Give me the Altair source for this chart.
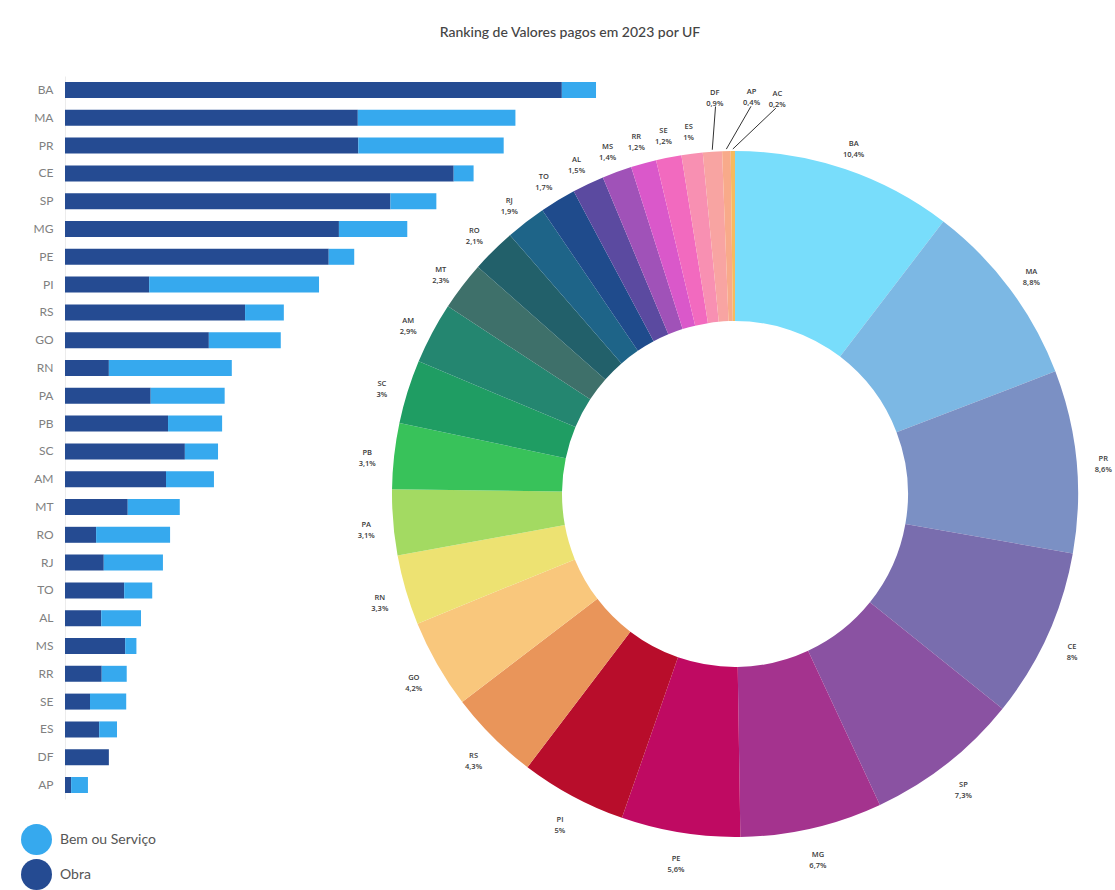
import math
import altair as alt
import pandas as pd

# ---------------- data ----------------
ufs = ["BA", "MA", "PR", "CE", "SP", "MG", "PE", "PI", "RS", "GO", "RN", "PA", "PB",
       "SC", "AM", "MT", "RO", "RJ", "TO", "AL", "MS", "RR", "SE", "ES", "DF", "AP"]
obra = [9.74, 5.74, 5.75, 7.62, 6.38, 5.37, 5.17, 1.65, 3.53, 2.82, 0.86, 1.68, 2.02,
        2.35, 1.98, 1.23, 0.61, 0.76, 1.16, 0.71, 1.18, 0.72, 0.49, 0.67, 0.86, 0.12]
bem = [0.67, 3.09, 2.85, 0.39, 0.90, 1.34, 0.50, 3.33, 0.76, 1.41, 2.41, 1.45, 1.06,
       0.65, 0.94, 1.02, 1.45, 1.16, 0.55, 0.78, 0.22, 0.49, 0.71, 0.35, 0.00, 0.33]
tipos = ["Bem ou Serviço", "Obra"]
tipo_colors = ["#36A9EE", "#254B92"]

donut_ufs = ufs + ["AC"]
donut_pct = [10.4, 8.8, 8.6, 8, 7.3, 6.7, 5.6, 5, 4.3, 4.2, 3.3, 3.1, 3.1, 3, 2.9,
             2.3, 2.1, 1.9, 1.7, 1.5, 1.4, 1.2, 1.2, 1, 0.9, 0.4, 0.2]
donut_colors = ["#78DDFB", "#7CB8E4", "#7B90C4", "#796DAE", "#8A52A2", "#A4338E",
                "#BF0A62", "#B80D2B", "#E9955A", "#F9C77C", "#EDE272", "#A3DA62",
                "#38C25A", "#1F9D63", "#248670", "#3E706A", "#22606A", "#1E6488",
                "#1F4B8C", "#5B4AA0", "#A052B8", "#DA58CA", "#F26ABF", "#F890B2",
                "#F8A4A2", "#F8AA8A", "#F6BA5E"]

# label nudges (degrees) for crowded small slices
crowded_nudge = {"DF": 0.9, "AP": 3.8, "AC": 6.4}

TITLE = "Ranking de Valores pagos em 2023 por UF"

# ---------------- layout constants ----------------
W, H = 1010, 723
CX, CY = 670, 418          # donut centre inside plot area
R_OUT, R_IN = 343, 173
R_LAB, R_LAB_FAR = 370, 402
FONT = "Lato"

# ---------------- tables ----------------
bar_rows = []
for u, o, b in zip(ufs, obra, bem):
    bar_rows.append({"uf": u, "tipo": "Obra", "val": o, "ord": 0})
    bar_rows.append({"uf": u, "tipo": "Bem ou Serviço", "val": b, "ord": 1})
bar_df = pd.DataFrame(bar_rows)


def fmt(p):
    s = f"{p:.1f}".rstrip("0").rstrip(".")
    return s.replace(".", ",") + "%"


total = sum(donut_pct)
d = pd.DataFrame({"uf": donut_ufs, "pct": donut_pct})
d["rank"] = range(len(d))
d["mid"] = d["pct"].cumsum() - d["pct"] / 2
d["label"] = [f"{u}\n{fmt(p)}" for u, p in zip(donut_ufs, donut_pct)]
d["crowded"] = d["uf"].isin(list(crowded_nudge.keys()))
d["lab_theta"] = d["mid"] + d["uf"].map(crowded_nudge).fillna(0) / 360 * total

a_mid = d["mid"] / total * 2 * math.pi
a_lab = d["lab_theta"] / total * 2 * math.pi
d["lx1"] = CX + (R_OUT + 2) * a_mid.apply(math.sin)
d["ly1"] = CY - (R_OUT + 2) * a_mid.apply(math.cos)
d["lx2"] = CX + (R_LAB_FAR - 14) * a_lab.apply(math.sin)
d["ly2"] = CY - (R_LAB_FAR - 14) * a_lab.apply(math.cos)

theta_scale = alt.Scale(domain=[0, total])

# ---------------- layers ----------------
bars = alt.Chart(bar_df).mark_bar().encode(
    x=alt.X("val:Q", stack="zero", scale=alt.Scale(domain=[0, 19.8], nice=False), axis=None),
    y=alt.Y("uf:N", sort=ufs, title=None,
            scale=alt.Scale(paddingInner=0.425, paddingOuter=0.216),
            axis=alt.Axis(ticks=False, domain=True, domainColor="#ececec",
                          labelColor="#808080", labelFontSize=12, labelFont=FONT,
                          labelPadding=12)),
    color=alt.Color("tipo:N", scale=alt.Scale(domain=tipos, range=tipo_colors),
                    legend=alt.Legend(title=None, orient="none", legendX=-44, legendY=748,
                                      direction="vertical", symbolType="circle",
                                      symbolSize=960, symbolStrokeWidth=0,
                                      symbolOpacity=1, labelFontSize=14,
                                      labelColor="#555555", labelFont=FONT,
                                      rowPadding=4, labelOffset=8, padding=0)),
    order=alt.Order("ord:Q"),
)

arcs = alt.Chart(d).mark_arc(innerRadius=R_IN, outerRadius=R_OUT).encode(
    theta=alt.Theta("pct:Q", stack=True, scale=theta_scale),
    order=alt.Order("rank:Q"),
    color=alt.Color("uf:N", scale=alt.Scale(domain=donut_ufs, range=donut_colors), legend=None),
    x=alt.value(CX),
    y=alt.value(CY),
)

labels = alt.Chart(d).transform_filter("!datum.crowded").mark_text(
    radius=R_LAB, fontSize=7.5, font="Open Sans", fontWeight=600, color="#3a3a3a",
    lineBreak="\n", lineHeight=11, align="center", baseline="middle",
).encode(
    theta=alt.Theta("lab_theta:Q", stack=False, scale=theta_scale),
    text="label:N",
    x=alt.value(CX),
    y=alt.value(CY),
)

labels_far = alt.Chart(d).transform_filter("datum.crowded").mark_text(
    radius=R_LAB_FAR, fontSize=7.5, font="Open Sans", fontWeight=600, color="#3a3a3a",
    lineBreak="\n", lineHeight=11, align="center", baseline="middle",
).encode(
    theta=alt.Theta("lab_theta:Q", stack=False, scale=theta_scale),
    text="label:N",
    x=alt.value(CX),
    y=alt.value(CY),
)

leaders = alt.Chart(d).transform_filter("datum.crowded").mark_rule(
    color="#333333", strokeWidth=1
).encode(
    x=alt.X("lx1:Q", scale=None, axis=None),
    y=alt.Y("ly1:Q", scale=None, axis=None),
    x2="lx2:Q",
    y2="ly2:Q",
)

chart = alt.layer(bars, arcs, labels, labels_far, leaders).resolve_scale(
    color="independent", x="independent", y="independent"
).properties(
    width=W,
    height=H,
    background="white",
    title=alt.TitleParams(TITLE, fontSize=14, font=FONT, fontWeight=500,
                          color="#444444", anchor="middle", offset=36),
    autosize=alt.AutoSizeParams(type="none"),
    padding={"left": 65, "top": 76, "right": 40, "bottom": 91},
).configure_view(strokeWidth=0, stroke="transparent")

chart.save("out.html", embed_options={"renderer": "svg", "actions": False})
